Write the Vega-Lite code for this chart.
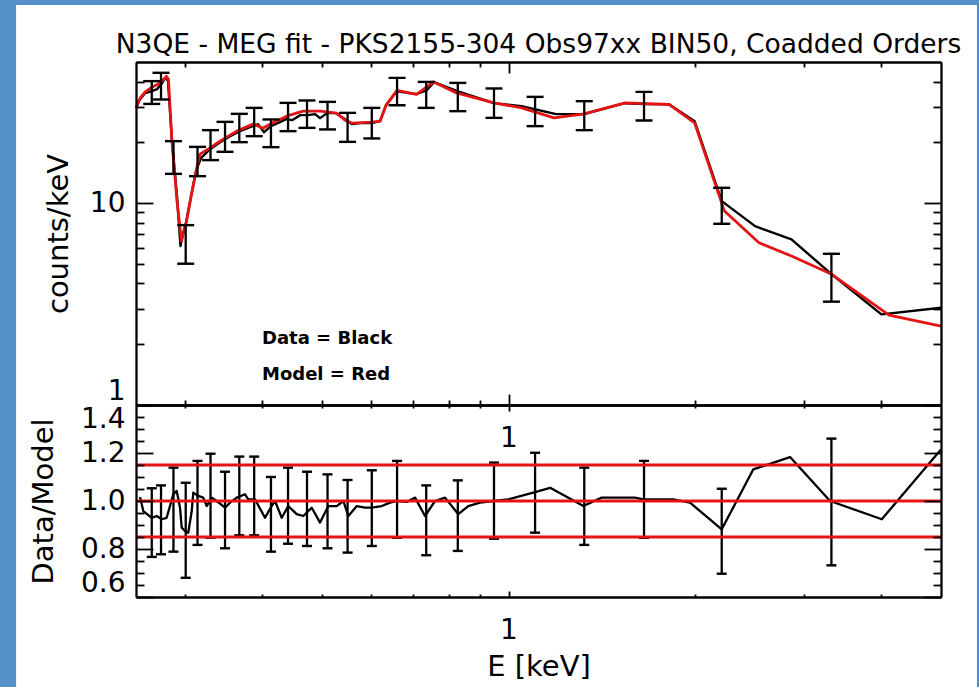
{
  "$schema": "https://vega.github.io/schema/vega-lite/v6.json",
  "width": 805,
  "height": 535,
  "autosize": {"type": "pad"},
  "padding": {"left": 16, "top": 4, "right": 2, "bottom": 0},
  "background": "#5590c8",
  "title": {
    "text": "N3QE - MEG fit - PKS2155-304 Obs97xx BIN50, Coadded Orders",
    "frame": "group", "anchor": "middle", "offset": -54,
    "font": "DejaVu Sans", "fontSize": 26.5, "fontWeight": "normal", "color": "black"
  },
  "datasets": {
    "spec": [
      {"E":0.25,"counts":29.87,"series":"Data = Black"},{"E":0.2538,"counts":32.72,"series":"Data = Black"},{"E":0.2585,"counts":35.05,"series":"Data = Black"},{"E":0.2653,"counts":35.84,"series":"Data = Black"},{"E":0.2703,"counts":36.68,"series":"Data = Black"},{"E":0.2754,"counts":39.3,"series":"Data = Black"},{"E":0.2795,"counts":42.05,"series":"Data = Black"},{"E":0.2816,"counts":40.2,"series":"Data = Black"},{"E":0.2858,"counts":20.27,"series":"Data = Black"},{"E":0.2912,"counts":10.83,"series":"Data = Black"},{"E":0.295,"counts":6.13,"series":"Data = Black"},{"E":0.2978,"counts":7.1,"series":"Data = Black"},{"E":0.3011,"counts":7.96,"series":"Data = Black"},{"E":0.3068,"counts":10.83,"series":"Data = Black"},{"E":0.3125,"counts":14.4,"series":"Data = Black"},{"E":0.3184,"counts":16.7,"series":"Data = Black"},{"E":0.3293,"counts":18.5,"series":"Data = Black"},{"E":0.3418,"counts":20.04,"series":"Data = Black"},{"E":0.3548,"counts":21.46,"series":"Data = Black"},{"E":0.3682,"counts":22.72,"series":"Data = Black"},{"E":0.3821,"counts":23.78,"series":"Data = Black"},{"E":0.3937,"counts":24.61,"series":"Data = Black"},{"E":0.4026,"counts":22.46,"series":"Data = Black"},{"E":0.4131,"counts":24.06,"series":"Data = Black"},{"E":0.4272,"counts":25.18,"series":"Data = Black"},{"E":0.4369,"counts":26.05,"series":"Data = Black"},{"E":0.4468,"counts":25.76,"series":"Data = Black"},{"E":0.4603,"counts":27.27,"series":"Data = Black"},{"E":0.4742,"counts":27.27,"series":"Data = Black"},{"E":0.4867,"counts":27.59,"series":"Data = Black"},{"E":0.4959,"counts":26.36,"series":"Data = Black"},{"E":0.5089,"counts":27.9,"series":"Data = Black"},{"E":0.5263,"counts":27.9,"series":"Data = Black"},{"E":0.5443,"counts":26.05,"series":"Data = Black"},{"E":0.5586,"counts":24.61,"series":"Data = Black"},{"E":0.5755,"counts":24.89,"series":"Data = Black"},{"E":0.6012,"counts":24.89,"series":"Data = Black"},{"E":0.62,"counts":25.46,"series":"Data = Black"},{"E":0.634,"counts":30.55,"series":"Data = Black"},{"E":0.6598,"counts":35.84,"series":"Data = Black"},{"E":0.7099,"counts":34.65,"series":"Data = Black"},{"E":0.7376,"counts":36.26,"series":"Data = Black"},{"E":0.7579,"counts":39.72,"series":"Data = Black"},{"E":0.8265,"counts":35.84,"series":"Data = Black"},{"E":0.9474,"counts":31.26,"series":"Data = Black"},{"E":1.0503,"counts":30.2,"series":"Data = Black"},{"E":1.1937,"counts":27.59,"series":"Data = Black"},{"E":1.3246,"counts":27.59,"series":"Data = Black"},{"E":1.5428,"counts":31.26,"series":"Data = Black"},{"E":1.6558,"counts":30.91,"series":"Data = Black"},{"E":1.8174,"counts":30.91,"series":"Data = Black"},{"E":1.9986,"counts":25.46,"series":"Data = Black"},{"E":2.211,"counts":10.23,"series":"Data = Black"},{"E":2.5028,"counts":7.69,"series":"Data = Black"},{"E":2.8662,"counts":6.61,"series":"Data = Black"},{"E":3.3292,"counts":4.44,"series":"Data = Black"},{"E":4.005,"counts":2.81,"series":"Data = Black"},{"E":5.0,"counts":3.03,"series":"Data = Black"},
      {"E":0.25,"counts":29.53,"series":"Model = Red"},{"E":0.2538,"counts":33.1,"series":"Model = Red"},{"E":0.2585,"counts":35.44,"series":"Model = Red"},{"E":0.2653,"counts":37.5,"series":"Model = Red"},{"E":0.2734,"counts":39.3,"series":"Model = Red"},{"E":0.28,"counts":42.5,"series":"Model = Red"},{"E":0.2821,"counts":41.1,"series":"Model = Red"},{"E":0.2858,"counts":20.27,"series":"Model = Red"},{"E":0.2912,"counts":10.23,"series":"Model = Red"},{"E":0.2961,"counts":6.48,"series":"Model = Red"},{"E":0.3017,"counts":8.15,"series":"Model = Red"},{"E":0.3074,"counts":11.08,"series":"Model = Red"},{"E":0.3137,"counts":15.08,"series":"Model = Red"},{"E":0.3172,"counts":17.48,"series":"Model = Red"},{"E":0.3293,"counts":18.78,"series":"Model = Red"},{"E":0.3418,"counts":20.27,"series":"Model = Red"},{"E":0.3637,"counts":22.72,"series":"Model = Red"},{"E":0.3864,"counts":24.61,"series":"Model = Red"},{"E":0.401,"counts":23.51,"series":"Model = Red"},{"E":0.4116,"counts":24.61,"series":"Model = Red"},{"E":0.438,"counts":26.96,"series":"Model = Red"},{"E":0.4654,"counts":28.54,"series":"Model = Red"},{"E":0.4959,"counts":28.54,"series":"Model = Red"},{"E":0.5277,"counts":27.9,"series":"Model = Red"},{"E":0.5443,"counts":25.76,"series":"Model = Red"},{"E":0.5586,"counts":24.89,"series":"Model = Red"},{"E":0.6012,"counts":25.18,"series":"Model = Red"},{"E":0.62,"counts":25.46,"series":"Model = Red"},{"E":0.634,"counts":30.55,"series":"Model = Red"},{"E":0.6598,"counts":36.13,"series":"Model = Red"},{"E":0.7099,"counts":34.53,"series":"Model = Red"},{"E":0.7568,"counts":39.85,"series":"Model = Red"},{"E":0.824,"counts":35.16,"series":"Model = Red"},{"E":0.9474,"counts":31.37,"series":"Model = Red"},{"E":1.0503,"counts":29.63,"series":"Model = Red"},{"E":1.1848,"counts":26.44,"series":"Model = Red"},{"E":1.3246,"counts":27.68,"series":"Model = Red"},{"E":1.5428,"counts":31.37,"series":"Model = Red"},{"E":1.8174,"counts":30.8,"series":"Model = Red"},{"E":1.9986,"counts":24.97,"series":"Model = Red"},{"E":2.2333,"counts":9.13,"series":"Model = Red"},{"E":2.5395,"counts":6.36,"series":"Model = Red"},{"E":2.8662,"counts":5.47,"series":"Model = Red"},{"E":3.3292,"counts":4.44,"series":"Model = Red"},{"E":4.1215,"counts":2.79,"series":"Model = Red"},{"E":5.0,"counts":2.46,"series":"Model = Red"}
    ],
    "errtop": [
      {"E":0.2651,"lo":31.0,"hi":40.2},{"E":0.2744,"lo":32.6,"hi":44.2},{"E":0.2874,"lo":13.96,"hi":20.27},{"E":0.3008,"lo":5.01,"hi":7.78},{"E":0.3143,"lo":13.6,"hi":18.99},{"E":0.3299,"lo":16.33,"hi":22.98},{"E":0.3482,"lo":17.95,"hi":25.26},{"E":0.3672,"lo":20.04,"hi":27.68},{"E":0.3881,"lo":21.46,"hi":29.63},{"E":0.4131,"lo":18.93,"hi":25.96},{"E":0.4402,"lo":22.72,"hi":31.37},{"E":0.4724,"lo":23.59,"hi":32.24},{"E":0.5099,"lo":23.17,"hi":31.73},{"E":0.5494,"lo":20.11,"hi":27.99},{"E":0.6012,"lo":20.91,"hi":29.63},{"E":0.6605,"lo":30.55,"hi":41.72},{"E":0.7362,"lo":29.63,"hi":39.85},{"E":0.828,"lo":28.54,"hi":39.4},{"E":0.9474,"lo":26.44,"hi":36.97},{"E":1.1039,"lo":24.06,"hi":33.6},{"E":1.3256,"lo":22.98,"hi":31.99},{"E":1.6558,"lo":25.67,"hi":35.56},{"E":2.211,"lo":7.9,"hi":11.91},{"E":3.3255,"lo":3.25,"hi":5.61}
    ],
    "ratio": [
      {"E":0.2538,"ratio":1.017},{"E":0.2569,"ratio":0.958},{"E":0.2651,"ratio":0.93},{"E":0.27,"ratio":0.9375},{"E":0.2751,"ratio":0.924},{"E":0.2802,"ratio":0.93},{"E":0.2837,"ratio":0.979},{"E":0.2872,"ratio":1.028},{"E":0.2909,"ratio":1.042},{"E":0.2945,"ratio":0.972},{"E":0.2964,"ratio":0.889},{"E":0.3,"ratio":0.875},{"E":0.3037,"ratio":0.868},{"E":0.3076,"ratio":0.958},{"E":0.3094,"ratio":1.035},{"E":0.3152,"ratio":1.021},{"E":0.3211,"ratio":1.014},{"E":0.3252,"ratio":0.979},{"E":0.3314,"ratio":1.014},{"E":0.3376,"ratio":1.0},{"E":0.3482,"ratio":0.972},{"E":0.3548,"ratio":0.993},{"E":0.3637,"ratio":1.014},{"E":0.3751,"ratio":1.028},{"E":0.3797,"ratio":1.007},{"E":0.3893,"ratio":1.007},{"E":0.404,"ratio":0.93},{"E":0.4142,"ratio":0.979},{"E":0.4194,"ratio":1.0},{"E":0.43,"ratio":0.93},{"E":0.4406,"ratio":0.979},{"E":0.4546,"ratio":0.945},{"E":0.466,"ratio":0.9375},{"E":0.4808,"ratio":0.972},{"E":0.4959,"ratio":0.91},{"E":0.5114,"ratio":0.979},{"E":0.5277,"ratio":0.979},{"E":0.5408,"ratio":1.0},{"E":0.551,"ratio":0.9375},{"E":0.5685,"ratio":0.979},{"E":0.5864,"ratio":0.972},{"E":0.6012,"ratio":0.972},{"E":0.624,"ratio":0.979},{"E":0.6435,"ratio":0.993},{"E":0.6598,"ratio":1.0},{"E":0.6846,"ratio":0.996},{"E":0.7062,"ratio":1.014},{"E":0.7329,"ratio":0.9375},{"E":0.7608,"ratio":1.0},{"E":0.7895,"ratio":1.014},{"E":0.8296,"ratio":0.945},{"E":0.861,"ratio":0.979},{"E":0.8994,"ratio":0.993},{"E":0.945,"ratio":1.0},{"E":0.9992,"ratio":1.007},{"E":1.0964,"ratio":1.035},{"E":1.1675,"ratio":1.055},{"E":1.3212,"ratio":0.979},{"E":1.4143,"ratio":1.014},{"E":1.6014,"ratio":1.014},{"E":1.65,"ratio":1.007},{"E":1.8467,"ratio":1.007},{"E":1.965,"ratio":0.993},{"E":2.211,"ratio":0.882},{"E":2.487,"ratio":1.132},{"E":2.851,"ratio":1.183},{"E":3.3092,"ratio":1.0},{"E":4.011,"ratio":0.924},{"E":5.0,"ratio":1.215}
    ],
    "errbot": [
      {"E":0.2651,"lo":0.767,"hi":1.053},{"E":0.2744,"lo":0.778,"hi":1.065},{"E":0.2874,"lo":0.789,"hi":1.139},{"E":0.3008,"lo":0.68,"hi":1.076},{"E":0.3143,"lo":0.817,"hi":1.167},{"E":0.3299,"lo":0.847,"hi":1.197},{"E":0.3482,"lo":0.803,"hi":1.122},{"E":0.3672,"lo":0.857,"hi":1.185},{"E":0.3881,"lo":0.857,"hi":1.185},{"E":0.4131,"lo":0.789,"hi":1.1},{"E":0.4402,"lo":0.822,"hi":1.139},{"E":0.4724,"lo":0.8125,"hi":1.122},{"E":0.5099,"lo":0.803,"hi":1.111},{"E":0.5494,"lo":0.785,"hi":1.0875},{"E":0.6012,"lo":0.8125,"hi":1.128},{"E":0.6605,"lo":0.847,"hi":1.167},{"E":0.7362,"lo":0.774,"hi":1.065},{"E":0.828,"lo":0.792,"hi":1.086},{"E":0.9474,"lo":0.843,"hi":1.16},{"E":1.1039,"lo":0.868,"hi":1.201},{"E":1.3256,"lo":0.817,"hi":1.139},{"E":1.6558,"lo":0.847,"hi":1.167},{"E":2.211,"lo":0.697,"hi":1.051},{"E":3.3255,"lo":0.732,"hi":1.26}
    ],
    "ref": [{"ratio":0.85},{"ratio":1.0},{"ratio":1.15}]
  },
  "layer": [
    {
      "data": {"values": [{}]},
      "mark": {"type": "rect", "fill": "white", "strokeWidth": 0},
      "encoding": {
        "x": {"datum": 0.16, "type": "quantitative", "scale": {"type": "log", "domain": [0.25, 5], "nice": false}, "axis": null},
        "x2": {"datum": 5.716},
        "y": {"datum": 3.0667, "type": "quantitative", "scale": {"type": "linear", "domain": [0.6, 1.4], "range": [535, 343], "nice": false, "zero": false}, "axis": null},
        "y2": {"datum": 0.2208}
      }
    },
    {
      "data": {"name": "spec"},
      "mark": {"type": "line", "strokeJoin": "round"},
      "encoding": {
        "x": {"field": "E", "type": "quantitative", "scale": {"type": "log", "domain": [0.25, 5], "nice": false},
              "axis": {"orient": "bottom", "values": [1], "tickSize": -6, "labelExpr": "'1'", "labelPadding": 25, "labelOverlap": false, "title": "E [keV]", "titlePadding": 8, "zindex": 1}},
        "y": {"field": "counts", "type": "quantitative", "scale": {"type": "log", "domain": [1, 50], "range": [343, 0], "nice": false},
              "axis": {"orient": "left", "values": [1, 10], "tickSize": -17, "labelExpr": "datum.value == 1 ? '1' : '10'", "labelPadding": 28, "labelFlush": true, "labelOverlap": false, "title": "counts/keV", "titlePadding": 16, "zindex": 1}},
        "color": {"field": "series", "type": "nominal",
                  "scale": {"domain": ["Data = Black", "Model = Red"], "range": ["#000000", "#e41414"]},
                  "legend": {"orient": "none", "legendX": 108, "legendY": 268, "title": null, "symbolOpacity": 0, "symbolSize": 0, "symbolStrokeWidth": 0, "labelOffset": 0, "padding": 0, "rowPadding": 18, "labelFont": "DejaVu Sans", "labelFontSize": 18, "labelFontWeight": "bold", "labelColor": "black"}},
        "strokeWidth": {"condition": {"test": "datum.series === 'Model = Red'", "value": 2.8}, "value": 2.4}
      }
    },
    {
      "data": {"name": "errtop"},
      "mark": {"type": "rule", "color": "black", "strokeWidth": 2.3},
      "encoding": {
        "x": {"field": "E", "type": "quantitative", "scale": {"type": "log", "domain": [0.25, 5], "nice": false},
              "axis": {"orient": "bottom", "values": [0.3,0.4,0.5,0.6,0.7,0.8,0.9,2,3,4], "tickSize": -3, "labels": false, "title": null, "zindex": 1}},
        "y": {"field": "lo", "type": "quantitative", "scale": {"type": "log", "domain": [1, 50], "range": [343, 0], "nice": false},
              "axis": {"orient": "left", "values": [2,3,4,5,6,7,8,9,20,30,40], "tickSize": -8, "labels": false, "title": null, "zindex": 1}},
        "y2": {"field": "hi"}
      }
    },
    {
      "data": {"name": "errtop"},
      "mark": {"type": "tick", "orient": "horizontal", "size": 17, "thickness": 2.4, "color": "black", "opacity": 1},
      "encoding": {
        "x": {"field": "E", "type": "quantitative", "scale": {"type": "log", "domain": [0.25, 5], "nice": false},
              "axis": {"orient": "top", "values": [1], "tickSize": -11, "labels": false, "title": null, "zindex": 1}},
        "y": {"field": "lo", "type": "quantitative", "scale": {"type": "log", "domain": [1, 50], "range": [343, 0], "nice": false},
              "axis": {"orient": "right", "values": [1, 10], "tickSize": -17, "labels": false, "title": null, "zindex": 1}}
      }
    },
    {
      "data": {"name": "errtop"},
      "mark": {"type": "tick", "orient": "horizontal", "size": 17, "thickness": 2.4, "color": "black", "opacity": 1},
      "encoding": {
        "x": {"field": "E", "type": "quantitative", "scale": {"type": "log", "domain": [0.25, 5], "nice": false},
              "axis": {"orient": "top", "values": [0.3,0.4,0.5,0.6,0.7,0.8,0.9,2,3,4], "tickSize": -5, "labels": false, "title": null, "zindex": 1}},
        "y": {"field": "hi", "type": "quantitative", "scale": {"type": "log", "domain": [1, 50], "range": [343, 0], "nice": false},
              "axis": {"orient": "right", "values": [2,3,4,5,6,7,8,9,20,30,40], "tickSize": -8, "labels": false, "title": null, "zindex": 1}}
      }
    },
    {
      "data": {"name": "ratio"},
      "mark": {"type": "line", "color": "black", "strokeWidth": 2.3, "strokeJoin": "round"},
      "encoding": {
        "x": {"field": "E", "type": "quantitative", "scale": {"type": "log", "domain": [0.25, 5], "nice": false},
              "axis": {"orient": "bottom", "offset": -192, "values": [1], "tickSize": -11, "labelExpr": "'1'", "labelPadding": 30, "labelOverlap": false, "title": null, "zindex": 1}},
        "y": {"field": "ratio", "type": "quantitative", "scale": {"type": "linear", "domain": [0.6, 1.4], "range": [535, 343], "nice": false, "zero": false},
              "axis": {"orient": "left", "values": [0.6, 0.8, 1.0, 1.2, 1.4], "format": ".1f", "tickSize": -17, "labelPadding": 28, "labelFlush": true, "labelOverlap": false, "title": "Data/Model", "titlePadding": 22, "zindex": 1}}
      }
    },
    {
      "data": {"name": "errbot"},
      "mark": {"type": "rule", "color": "black", "strokeWidth": 2.3},
      "encoding": {
        "x": {"field": "E", "type": "quantitative", "scale": {"type": "log", "domain": [0.25, 5], "nice": false},
              "axis": {"orient": "bottom", "offset": -192, "values": [0.3,0.4,0.5,0.6,0.7,0.8,0.9,2,3,4], "tickSize": -5, "labels": false, "title": null, "zindex": 1}},
        "y": {"field": "lo", "type": "quantitative", "scale": {"type": "linear", "domain": [0.6, 1.4], "range": [535, 343], "nice": false, "zero": false},
              "axis": {"orient": "left", "values": [0.65,0.7,0.75,0.85,0.9,0.95,1.05,1.1,1.15,1.25,1.3,1.35], "tickSize": -8, "labels": false, "title": null, "zindex": 1}},
        "y2": {"field": "hi"}
      }
    },
    {
      "data": {"name": "errbot"},
      "mark": {"type": "tick", "orient": "horizontal", "size": 10, "thickness": 2.4, "color": "black", "opacity": 1},
      "encoding": {
        "x": {"field": "E", "type": "quantitative", "scale": {"type": "log", "domain": [0.25, 5], "nice": false},
              "axis": {"orient": "top", "offset": -343, "values": [1], "tickSize": -6, "labels": false, "title": null, "zindex": 1}},
        "y": {"field": "lo", "type": "quantitative", "scale": {"type": "linear", "domain": [0.6, 1.4], "range": [535, 343], "nice": false, "zero": false},
              "axis": {"orient": "right", "values": [0.6, 0.8, 1.0, 1.2, 1.4], "tickSize": -17, "labels": false, "title": null, "zindex": 1}}
      }
    },
    {
      "data": {"name": "errbot"},
      "mark": {"type": "tick", "orient": "horizontal", "size": 10, "thickness": 2.4, "color": "black", "opacity": 1},
      "encoding": {
        "x": {"field": "E", "type": "quantitative", "scale": {"type": "log", "domain": [0.25, 5], "nice": false},
              "axis": {"orient": "top", "offset": -343, "values": [0.3,0.4,0.5,0.6,0.7,0.8,0.9,2,3,4], "tickSize": -3, "labels": false, "title": null, "zindex": 1}},
        "y": {"field": "hi", "type": "quantitative", "scale": {"type": "linear", "domain": [0.6, 1.4], "range": [535, 343], "nice": false, "zero": false},
              "axis": {"orient": "right", "values": [0.65,0.7,0.75,0.85,0.9,0.95,1.05,1.1,1.15,1.25,1.3,1.35], "tickSize": -8, "labels": false, "title": null, "zindex": 1}}
      }
    },
    {
      "data": {"name": "ref"},
      "mark": {"type": "rule", "color": "#e41414", "strokeWidth": 2.8},
      "encoding": {
        "y": {"field": "ratio", "type": "quantitative", "scale": {"type": "linear", "domain": [0.6, 1.4], "range": [535, 343], "nice": false, "zero": false}, "axis": null}
      }
    }
  ],
  "resolve": {"scale": {"y": "independent"}, "axis": {"x": "independent", "y": "independent"}},
  "config": {
    "view": {"stroke": null},
    "font": "DejaVu Sans",
    "axis": {
      "grid": false, "domainColor": "black", "domainWidth": 1.8, "tickColor": "black", "tickWidth": 1.8,
      "labelColor": "black", "titleColor": "black", "labelFont": "DejaVu Sans", "titleFont": "DejaVu Sans",
      "labelFontSize": 28, "titleFontSize": 29, "titleFontWeight": "normal"
    }
  }
}
